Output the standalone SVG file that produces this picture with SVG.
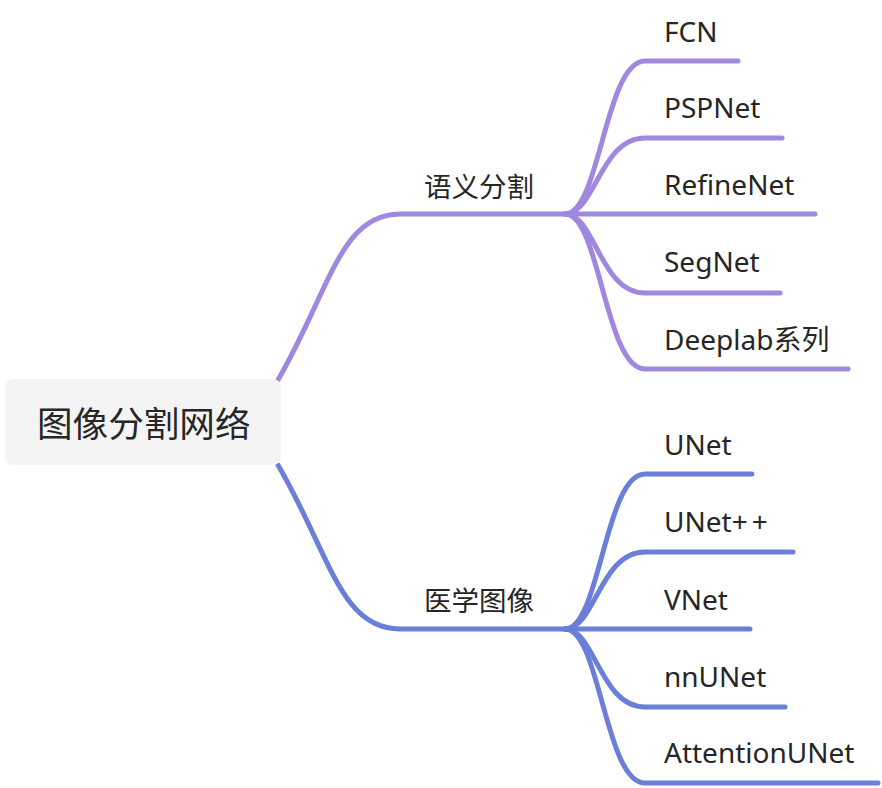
<svg xmlns="http://www.w3.org/2000/svg" width="882" height="788" viewBox="0 0 882 788">
<style>
.p{fill:none;stroke:#9f88e0;stroke-width:5;stroke-linecap:round}
.b{fill:none;stroke:#6b7fd9;stroke-width:5;stroke-linecap:round}
.t{font-family:"Noto Sans","Noto Sans CJK SC",sans-serif;fill:#262626}
.leaf{font-size:28px}
.main{font-size:27.5px}
</style>
<rect width="882" height="788" fill="#ffffff"/>
<g id="connectors">
<path class="p" d="M278,380 C330,290 340,214 400,214 L565,214"/>
<path class="b" d="M278,465 C330,554 340,629 400,629 L565,629"/>
<path class="p" d="M565,214 C600,214 605,61 645,61 L738,61"/>
<path class="p" d="M565,214 C595,214 600,138 645,138 L782,138"/>
<path class="p" d="M565,214 L815,214"/>
<path class="p" d="M565,214 C595,214 600,293 645,293 L780,293"/>
<path class="p" d="M565,214 C600,214 605,369 645,369 L848,369"/>
<path class="b" d="M565,629 C600,629 605,474 645,474 L752,474"/>
<path class="b" d="M565,629 C595,629 600,552 645,552 L793,552"/>
<path class="b" d="M565,629 L750,629"/>
<path class="b" d="M565,629 C595,629 600,707 645,707 L785,707"/>
<path class="b" d="M565,629 C600,629 605,783 645,783 L878,783"/>
</g>
<g id="root">
<rect x="5" y="379" width="276" height="86" rx="8" fill="#f4f4f4"/>
<text class="t" x="37" y="437" font-size="35.6">图像分割网络</text>
</g>
<g id="n-semantic"><text class="t main" x="424" y="197">语义分割</text></g>
<g id="n-medical"><text class="t main" x="424" y="611">医学图像</text></g>
<g id="n-fcn"><text class="t leaf" x="664" y="42">FCN</text></g>
<g id="n-pspnet"><text class="t leaf" x="664" y="118">PSPNet</text></g>
<g id="n-refinenet"><text class="t leaf" x="664" y="195">RefineNet</text></g>
<g id="n-segnet"><text class="t leaf" x="664" y="272">SegNet</text></g>
<g id="n-deeplab"><text class="t leaf" x="664" y="350">Deeplab系列</text></g>
<g id="n-unet"><text class="t leaf" x="664" y="455">UNet</text></g>
<g id="n-unetpp"><text class="t leaf" x="664" y="532">UNet<tspan letter-spacing="4">++</tspan></text></g>
<g id="n-vnet"><text class="t leaf" x="664" y="610">VNet</text></g>
<g id="n-nnunet"><text class="t leaf" x="664" y="687">nnUNet</text></g>
<g id="n-attunet"><text class="t leaf" x="664" y="763">AttentionUNet</text></g>
</svg>
